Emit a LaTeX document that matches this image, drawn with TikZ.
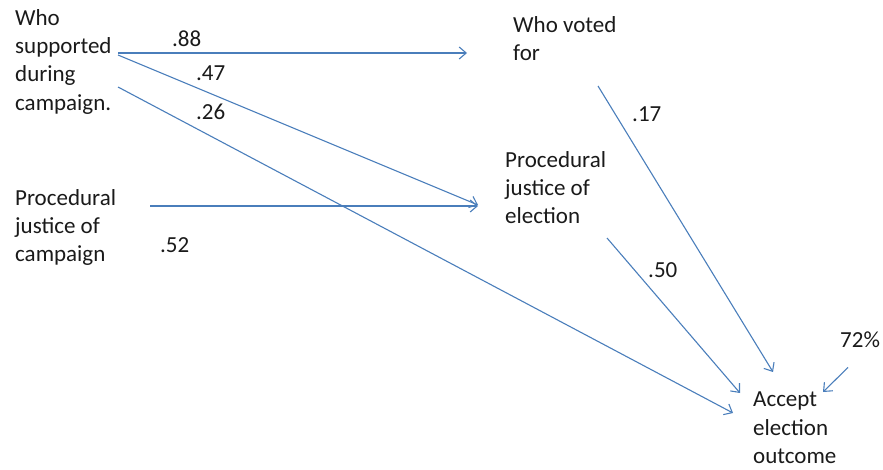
\documentclass[tikz,border=0pt]{standalone}
\usepackage{fontspec}
\setmainfont{Carlito}
\usetikzlibrary{arrows.meta, calc}
\definecolor{linkblue}{HTML}{4A7EBB}
\definecolor{ink}{HTML}{1A1A1A}

\begin{document}
\begin{tikzpicture}[x = 1pt, y = -1pt,
    box/.style = {align = left, anchor = north west, inner sep = 0pt, text = ink, font = \fontsize{23}{28.3}\selectfont},
    weight/.style = {anchor = base west, inner sep = 0pt, text = ink, font = \fontsize{23}{28.3}\selectfont},
    link/.style = {draw = linkblue, line width = 1.1pt, -{Straight Barb[length = 7pt, width = 12pt]}}]
    \useasboundingbox (0, 0) rectangle (883, 470);
    \node [box] (supported) at (15, 9) {Who\\supported\\during\\campaign.};
    \node [box] (campaign) at (15, 189) {Procedural\\justice of\\campaign};
    \node [box] (voted) at (513, 16) {Who voted\\for};
    \node [box] (election) at (505, 151) {Procedural\\justice of\\election};
    \node [box] (accept) at (753, 392) {Accept\\election\\outcome};
    \node [weight] (w88) at (172, 47) {.88};
    \node [weight] (w47) at (196, 81) {.47};
    \node [weight] (w26) at (196, 120) {.26};
    \node [weight] (w52) at (160, 253) {.52};
    \node [weight] (w17) at (632, 122) {.17};
    \node [weight] (w50) at (648, 278) {.50};
    \node [weight] (w72) at (840, 347) {72\%};
    \draw [link] ($(supported.north west) + (103, 44)$) -- ($(voted.north west) + (-46, 37)$);
    \draw [link] ($(supported.north west) + (103, 46)$) -- ($(election.north west) + (-27, 54)$);
    \draw [link] ($(supported.north west) + (103, 78)$) -- ($(accept.north west) + (-20, 21)$);
    \draw [link] ($(campaign.north west) + (135, 17)$) -- ($(election.north west) + (-27, 55)$);
    \draw [link] ($(voted.north west) + (85, 70)$) -- ($(accept.north west) + (20, -20)$);
    \draw [link] ($(election.north west) + (102, 87)$) -- ($(accept.north west) + (-13, 1)$);
    \draw [link] ($(w72.south) + (-12, 20)$) -- ($(accept.north west) + (70, 0)$);
\end{tikzpicture}
\end{document}
